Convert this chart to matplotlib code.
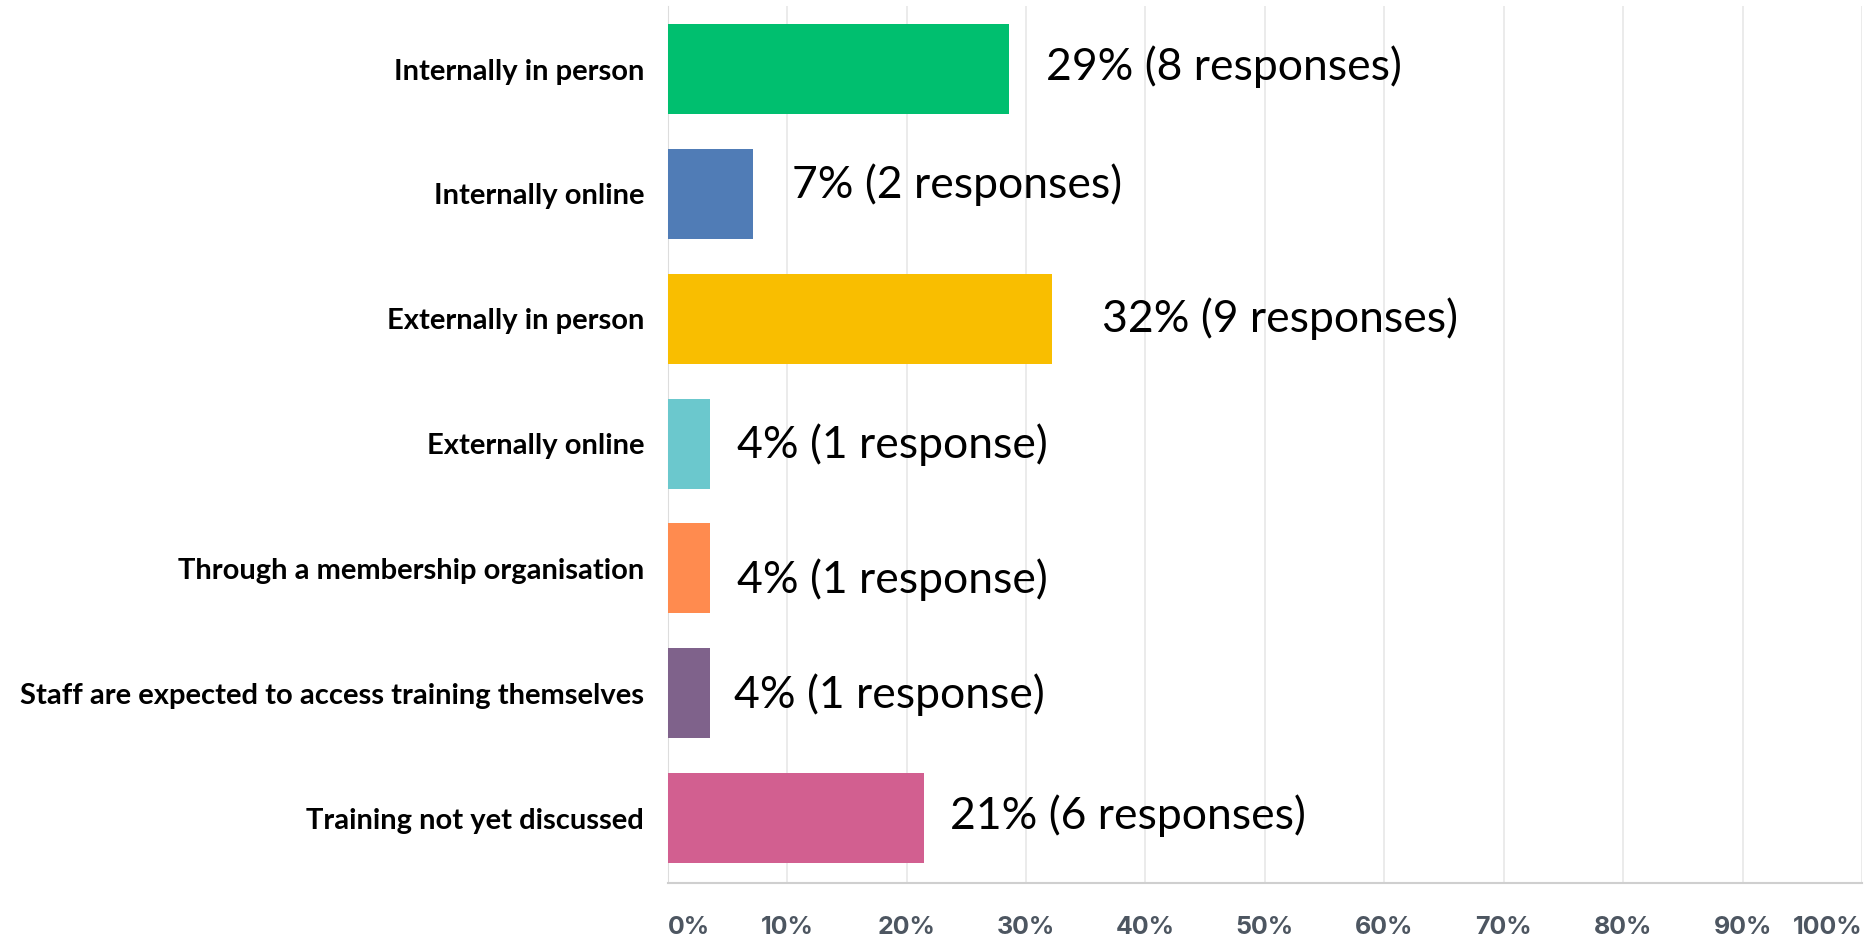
import matplotlib
matplotlib.use("Agg")
from matplotlib import pyplot as plt

categories = [
    "Internally in person",
    "Internally online",
    "Externally in person",
    "Externally online",
    "Through a membership organisation",
    "Staff are expected to access training themselves",
    "Training not yet discussed",
]
responses = [8, 2, 9, 1, 1, 1, 6]
total = 28
percents = [r / total * 100 for r in responses]
value_labels = [
    "29% (8 responses)",
    "7% (2 responses)",
    "32% (9 responses)",
    "4% (1 response)",
    "4% (1 response)",
    "4% (1 response)",
    "21% (6 responses)",
]
xticks = [0, 10, 20, 30, 40, 50, 60, 70, 80, 90, 100]
colors = ["#00BF6F", "#507CB6", "#F9BE00", "#6BC8CD", "#FF8B4F", "#7F628B", "#D25F90"]

# the value labels were pasted by hand, so each sits a little differently (points)
label_dx = [27, 28, 36, 19, 19, 17, 19]
label_dy = [1.5, 6.5, 0, -1, -8, -1, 1.5]

fig = plt.figure(figsize=(18.65, 9.4), dpi=100)
ax = fig.add_axes([0.358, 0.0606, 0.6404, 0.933])

ypos = list(range(len(categories)))
ax.barh(ypos, percents, height=0.72, color=colors, zorder=3)

ax.set_xlim(0, 100)
ax.set_ylim(6.52, -0.505)

ax.set_yticks(ypos)
ax.set_yticklabels(categories, fontsize=21, fontweight="bold", family="Lato")
ax.tick_params(axis="y", length=0, pad=17)

ax.set_xticks(xticks)
ax.set_xticklabels([f"{t}%" for t in xticks], fontsize=18, fontweight="bold",
                   family="Inter", color="#4d5661")
ax.tick_params(axis="x", length=0, pad=24)
labs = ax.get_xticklabels()
labs[0].set_horizontalalignment("left")
labs[-1].set_horizontalalignment("right")

ax.grid(axis="x", color="#e8e8e8", linewidth=1.2, zorder=0)
for s in ["top", "right"]:
    ax.spines[s].set_visible(False)
ax.spines["left"].set_color("#dddddd")
ax.spines["bottom"].set_color("#cfcfcf")
ax.spines["bottom"].set_linewidth(1.5)

for y, p, lab, dx, dy in zip(ypos, percents, value_labels, label_dx, label_dy):
    ax.annotate(lab, (p, y), xytext=(dx, dy), textcoords="offset points",
                va="center", ha="left", fontsize=32, family="Lato")

fig.savefig("out.png", dpi=100)
